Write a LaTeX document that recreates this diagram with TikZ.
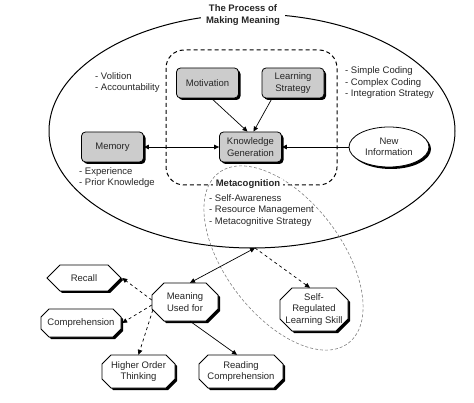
\documentclass[tikz,border=0pt]{standalone}
\usepackage{fontspec}
\setmainfont{Liberation Sans}
\usetikzlibrary{arrows.meta,shapes.geometric,shadows,calc}
\newcommand\octo[7]{%
 \begin{scope}[shift={(#2,#3)}]
  \fill[black,shift={(2,-2)}] ({-#4/2+#6},{#5/2}) -- ({#4/2-#6},{#5/2}) -- ({#4/2},{#5/2-#6}) -- ({#4/2},{-#5/2+#6}) -- ({#4/2-#6},{-#5/2}) -- ({-#4/2+#6},{-#5/2}) -- ({-#4/2},{-#5/2+#6}) -- ({-#4/2},{#5/2-#6}) -- cycle;
  \filldraw[fill=white,draw=black,line width=.8pt] ({-#4/2+#6},{#5/2}) -- ({#4/2-#6},{#5/2}) -- ({#4/2},{#5/2-#6}) -- ({#4/2},{-#5/2+#6}) -- ({#4/2-#6},{-#5/2}) -- ({-#4/2+#6},{-#5/2}) -- ({-#4/2},{-#5/2+#6}) -- ({-#4/2},{#5/2-#6}) -- cycle;
  \node[txt,align=center,minimum width=#4pt,minimum height=#5pt,inner sep=0pt] (#1) at (0,0) {#7};
 \end{scope}}
\begin{document}
\begin{tikzpicture}[x=1pt,y=1pt,
  txt/.style={font=\fontsize{9.5}{11.5}\selectfont,text=black!85},
  graybox/.style={txt,rectangle,rounded corners=4pt,draw=black,line width=.8pt,fill=gray!40,
    minimum width=62pt,minimum height=30pt,inner sep=1pt,align=center,
    drop shadow={shadow xshift=2pt,shadow yshift=-2pt,fill=black,opacity=1}},
  lst/.style={txt,align=left,inner sep=0pt,anchor=west},
  tip/.style={-{Triangle[length=5pt,width=4.5pt]}},
  conn/.style={line width=.7pt,black}]
\useasboundingbox (0,0) rectangle (474,402);
% outer ellipse
\draw[line width=1pt] (252,271) ellipse [x radius=203, y radius=117];
% dashed rounded rectangle
\draw[line width=1pt,dash pattern=on 4pt off 3pt,rounded corners=18pt] (166,352) rectangle (337,217);
% gray dashed ellipse
\draw[gray,line width=.6pt,dash pattern=on 3pt off 2pt,rotate around={-52.7:(283.5,144)}] (283.5,144) ellipse [x radius=107, y radius=58];
% title
\node[txt,font=\fontsize{9.5}{11.5}\selectfont\bfseries,fill=white,align=center,inner xsep=5pt,inner ysep=1pt] (title) at (243,387) {The Process of\\Making Meaning};
\node[txt,font=\fontsize{9.5}{11.5}\selectfont\bfseries,fill=white,inner xsep=3pt,inner ysep=1pt] (meta) at (248,218) {Metacognition};
% gray boxes
\node[graybox] (mot) at (207.5,319) {Motivation};
\node[graybox] (ls) at (293,319) {Learning\\Strategy};
\node[graybox] (kg) at (250.5,255) {Knowledge\\Generation};
\node[graybox] (mem) at (112.5,255) {Memory};
\node[txt,ellipse,draw=black,line width=.8pt,fill=white,minimum width=80pt,minimum height=40pt,inner sep=0pt,align=center,
  drop shadow={shadow xshift=2pt,shadow yshift=-2pt,fill=black,opacity=1}] (ni) at (389,255) {New\\Information};
% lists
\node[lst] (l1) at (95,319.5) {- Volition\\- Accountability};
\node[lst] (l2) at (345,319) {- Simple Coding\\- Complex Coding\\- Integration Strategy};
\node[lst] (l3) at (79,224.5) {- Experience\\- Prior Knowledge};
\node[lst] (l4) at (209,191.5) {- Self-Awareness\\- Resource Management\\- Metacognitive Strategy};
% octagons
\octo{rec}{84}{124}{74}{26}{13}{Recall}
\octo{comp}{81}{79}{80}{28}{8}{Comprehension}
\octo{mu}{185}{100}{66}{38}{12}{Meaning\\Used for}
\octo{srl}{314}{92.5}{68}{43}{12}{Self-\\Regulated\\Learning Skill}
\octo{hot}{138.5}{30.5}{73}{33}{9}{Higher Order\\Thinking}
\octo{rc}{241}{30.5}{84}{33}{9}{Reading\\Comprehension}
% connectors
\coordinate (pb) at (255,154);
\draw[conn,tip] ([xshift=4pt]mot.south) -- ([xshift=-3pt]kg.north);
\draw[conn,tip] ([xshift=-21pt]ls.south) -- ([xshift=3pt]kg.north);
\draw[conn,{Triangle[length=5pt,width=4.5pt]}-{Triangle[length=5pt,width=4.5pt]}] (mem.east) -- (kg.west);
\draw[conn,tip] (ni.west) -- (kg.east);
\draw[conn,{Triangle[length=5pt,width=4.5pt]}-{Triangle[length=5pt,width=4.5pt]}] (pb) -- ([xshift=5pt]mu.north);
\draw[conn,tip,dashed] (pb) -- ([xshift=-4pt]srl.north);
\draw[conn,tip] ([xshift=5pt]mu.south) -- ([xshift=-4pt]rc.north);
\draw[conn,tip,dashed] ([yshift=2pt]mu.west) -- ([xshift=1pt]rec.east);
\draw[conn,tip,dashed] ([yshift=-3pt]mu.west) -- ([xshift=1pt]comp.east);
\draw[conn,tip,dashed] ([xshift=1pt,yshift=-8pt]mu.west) -- (hot.north);
\end{tikzpicture}
\end{document}
